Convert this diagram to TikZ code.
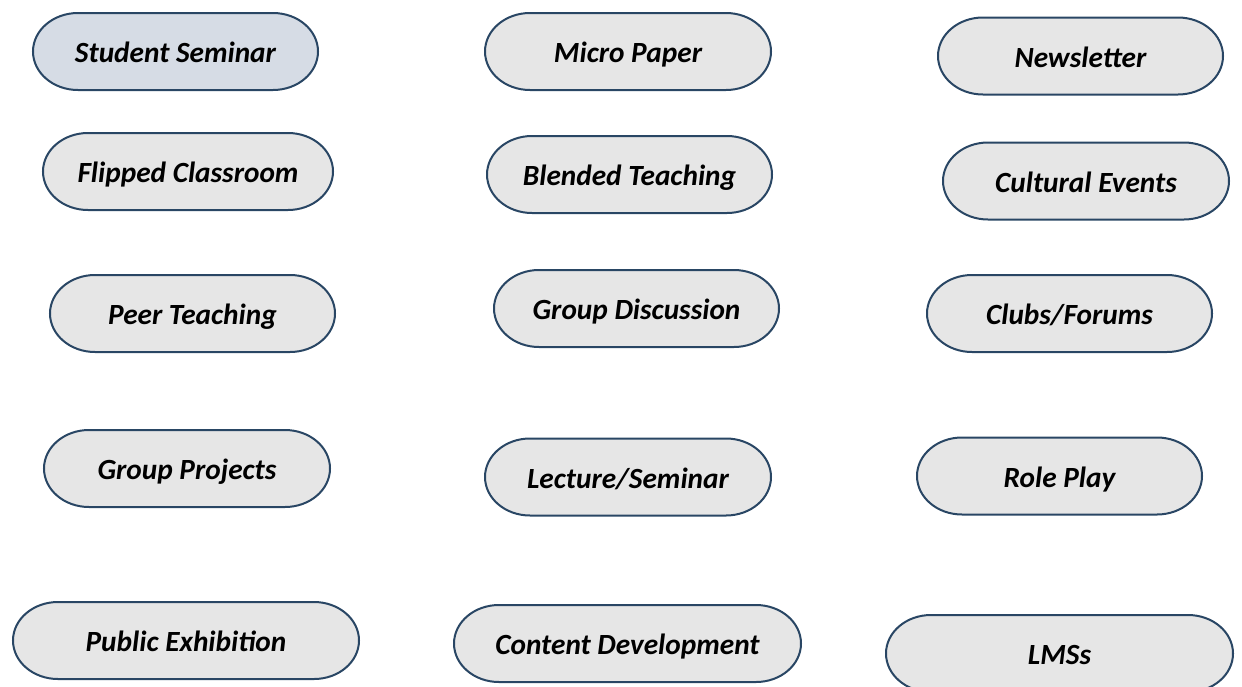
\documentclass[tikz,border=0pt]{standalone}
\usepackage{fontspec}
\setmainfont{Carlito}
\definecolor{pillborder}{RGB}{41,70,100}
\definecolor{pillfill}{RGB}{230,230,230}
\definecolor{pillblue}{RGB}{214,220,229}
\tikzset{
  pillline/.style={draw=pillborder, line width=2pt},
  pilltext/.style={inner sep=0pt, outer sep=0pt, minimum height=77pt,
    text height=22.4pt, text depth=0pt,
    font=\fontsize{29.3}{35}\selectfont\bfseries\itshape, text=black}
}
% #1 fill, #2 name, #3 cx, #4 cy, #5 half width, #6 text
\newcommand\pillnode[6]{%
  \path[pillline, fill=#1] ({#3-#5+45},{#4-38.5}) -- ({#3+#5-45},{#4-38.5})
    arc[start angle=90, end angle=-90, x radius=45pt, y radius=38.5pt]
    -- ({#3-#5+45},{#4+38.5})
    arc[start angle=270, end angle=90, x radius=45pt, y radius=38.5pt] -- cycle;
  \node[pilltext, minimum width={2*#5}] (#2) at (#3,#4) {#6};%
}
\begin{document}
\begin{tikzpicture}[x=1pt,y=-1pt]
\useasboundingbox (0,0) rectangle (1242,686);
\clip (0,0) rectangle (1242,686);
\pillnode{pillblue}{ss}{175.5}{51.5}{142.5}{Student Seminar}
\pillnode{pillfill}{mp}{628}{51.5}{143}{Micro Paper}
\pillnode{pillfill}{nl}{1080.5}{56}{142.5}{Newsletter}
\pillnode{pillfill}{fc}{188}{171.5}{145}{Flipped Classroom}
\pillnode{pillfill}{bt}{629.5}{174.5}{142.5}{Blended Teaching}
\pillnode{pillfill}{ce}{1086}{181}{143}{Cultural Events}
\pillnode{pillfill}{pt}{192.5}{313.5}{142.5}{Peer Teaching}
\pillnode{pillfill}{gd}{636.5}{308.5}{142.5}{Group Discussion}
\pillnode{pillfill}{cf}{1069.5}{313.5}{142.5}{Clubs/Forums}
\pillnode{pillfill}{gp}{187}{468.5}{143}{Group Projects}
\pillnode{pillfill}{ls}{628}{477}{143}{Lecture/Seminar}
\pillnode{pillfill}{rp}{1059.5}{476}{142.5}{Role Play}
\pillnode{pillfill}{pe}{186}{640.5}{173}{Public Exhibition}
\pillnode{pillfill}{cd}{627.5}{643.5}{173.5}{Content Development}
\pillnode{pillfill}{lm}{1059.5}{653.5}{173.5}{LMSs}
\end{tikzpicture}
\end{document}
